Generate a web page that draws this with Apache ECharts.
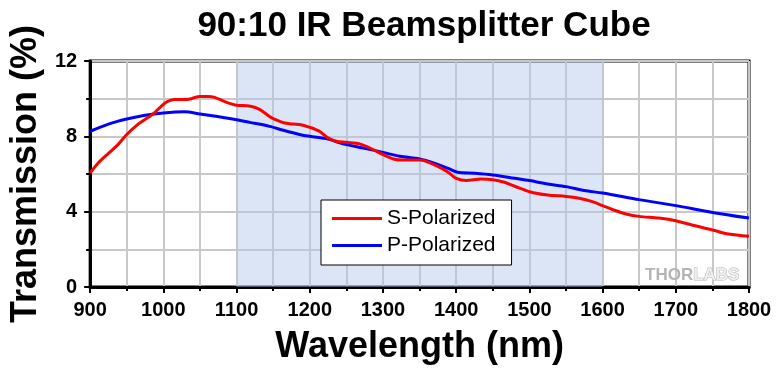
<!DOCTYPE html>
<html>
<head>
<meta charset="utf-8">
<script src="https://cdn.jsdelivr.net/npm/echarts@6/dist/echarts.min.js"></script>
<style>
html,body{margin:0;padding:0;background:#fff;}
#chart{width:780px;height:370px;}
</style>
</head>
<body>
<div id="chart"></div>
<script>
// Wavelength (nm) and transmission (%)
const sWavelength = [900,911,925,938,950,964,975,983,990,1000,1006,1015,1029,1038,1050,1061,1070,1083,1095,1100,1119,1132,1145,1150,1164,1177,1188,1200,1213,1225,1236,1250,1268,1282,1300,1314,1328,1350,1357,1375,1389,1400,1414,1434,1450,1466,1480,1500,1525,1550,1568,1586,1600,1614,1632,1650,1677,1700,1722,1750,1772,1800];
const sTransmission = [6.05,6.58,7.1,7.56,8.1,8.6,8.9,9.1,9.33,9.7,9.86,9.95,9.95,10.0,10.12,10.12,10.07,9.86,9.7,9.65,9.6,9.42,9.05,8.94,8.72,8.65,8.62,8.48,8.27,7.92,7.74,7.68,7.6,7.38,7.03,6.8,6.74,6.74,6.7,6.4,6.09,5.77,5.65,5.73,5.7,5.56,5.35,5.06,4.88,4.81,4.71,4.53,4.32,4.1,3.88,3.75,3.66,3.52,3.29,3.03,2.81,2.69];
const pWavelength = [900,925,950,975,1000,1029,1050,1074,1100,1118,1145,1164,1186,1200,1225,1241,1250,1273,1300,1323,1350,1370,1389,1402,1425,1450,1480,1500,1525,1550,1575,1600,1650,1700,1750,1800];
const pTransmission = [8.27,8.65,8.92,9.12,9.24,9.3,9.19,9.05,8.88,8.74,8.53,8.32,8.1,8.0,7.86,7.65,7.56,7.38,7.15,6.94,6.8,6.58,6.3,6.09,6.04,5.95,5.77,5.65,5.47,5.33,5.12,4.99,4.64,4.32,3.96,3.66];
const seriesNames = ['S-Polarized','P-Polarized'];
const shadedBand = [1100, 1600];
const xTicks = {min: 900, max: 1800, step: 100};
const yTicks = {min: 0, max: 12, step: 4};

const pair = (xs, ys) => xs.map((x, i) => [x, ys[i]]);
const FONT = 'Arial, "Liberation Sans", sans-serif';

const chart = echarts.init(document.getElementById('chart'), null, {renderer: 'canvas'});
const axisCommon = {
  axisLine: {show: true, lineStyle: {color: '#000', width: 3}},
  axisTick: {show: true, inside: false, length: 6, lineStyle: {color: '#000', width: 2}},
  minorTick: {show: true, splitNumber: 2, length: 4, lineStyle: {color: '#000', width: 2}},
  splitLine: {show: true, lineStyle: {color: '#c8c8c8', width: 2}},
  minorSplitLine: {show: true, lineStyle: {color: '#c8c8c8', width: 2}},
  axisLabel: {color: '#000', fontWeight: 'bold', fontSize: 20, fontFamily: FONT, margin: 13, formatter: v => String(v)},
  nameTextStyle: {color: '#000', fontWeight: 'bold', fontSize: 36, fontFamily: FONT}
};
chart.setOption({
  animation: false,
  backgroundColor: '#fff',
  title: {
    text: '90:10 IR Beamsplitter Cube',
    left: 419, top: 4, textAlign: 'center',
    textStyle: {color: '#000', fontWeight: 'bold', fontSize: 35, fontFamily: FONT}
  },
  grid: {left: 90, right: 31, top: 61, bottom: 80, show: true, borderColor: '#000', borderWidth: 3, containLabel: false},
  xAxis: Object.assign({}, axisCommon, {
    type: 'value', min: xTicks.min, max: xTicks.max, interval: xTicks.step,
    name: 'Wavelength (nm)', nameLocation: 'middle', nameGap: 42
  }),
  yAxis: Object.assign({}, axisCommon, {
    type: 'value', min: yTicks.min, max: yTicks.max, interval: yTicks.step,
    name: 'Transmission (%)', nameLocation: 'middle', nameGap: 43
  }),
  legend: {
    data: seriesNames,
    orient: 'vertical', left: 321, top: 200,
    backgroundColor: '#fff', borderColor: '#000', borderWidth: 1,
    padding: [8, 16, 9, 11], itemWidth: 50, itemHeight: 3, itemGap: 6,
    icon: 'rect',
    textStyle: {color: '#000', fontSize: 21, fontFamily: FONT, lineHeight: 19}
  },
  graphic: [{
    type: 'text', left: 645, top: 266, silent: true, z: 1,
    style: {
      text: '{a|THOR}{b|LABS}',
      rich: {
        a: {fill: '#b4b4b4', font: 'bold 17px ' + FONT},
        b: {fill: '#eeeeee', stroke: '#b4b4b4', lineWidth: 1, font: 'bold 17px ' + FONT}
      }
    }
  }],
  series: [
    {
      name: 'band', type: 'line', data: [], silent: true,
      markArea: {silent: true, itemStyle: {color: 'rgba(177,197,235,0.45)'}, data: [[{xAxis: shadedBand[0]}, {xAxis: shadedBand[1]}]]}
    },
    {
      name: seriesNames[0], type: 'line', data: pair(sWavelength, sTransmission),
      showSymbol: false, smooth: 0.3, lineStyle: {color: '#ff0000', width: 3}, itemStyle: {color: '#ff0000'}, z: 4
    },
    {
      name: seriesNames[1], type: 'line', data: pair(pWavelength, pTransmission),
      showSymbol: false, smooth: 0.3, lineStyle: {color: '#0000ff', width: 3}, itemStyle: {color: '#0000ff'}, z: 3
    }
  ]
});
</script>
</body>
</html>
